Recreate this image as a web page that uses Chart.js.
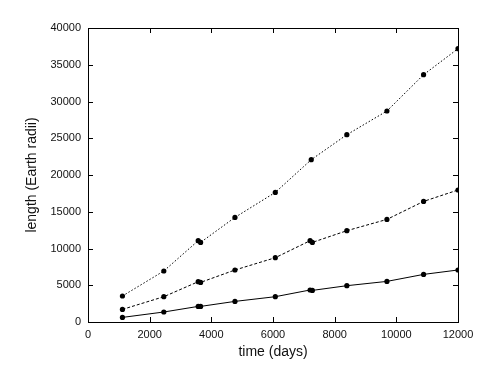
<!DOCTYPE html>
<html>
<head>
<meta charset="utf-8">
<script src="https://cdn.jsdelivr.net/npm/chart.js@4"></script>
<style>
  html, body { margin: 0; padding: 0; background: #fff; }
  #wrap { width: 502px; height: 367px; }
</style>
</head>
<body>
<div id="wrap"><canvas id="chartLength"></canvas></div>
<script>
const xTicks = [0, 2000, 4000, 6000, 8000, 10000, 12000];
const yTicks = [0, 5000, 10000, 15000, 20000, 25000, 30000, 35000, 40000];

const daysLow = [1117, 2459, 3574, 3652, 4766, 6075, 7203, 7277, 8395, 9695, 10884, 12000];
const lengthLow = [626, 1360, 2122, 2122, 2803, 3442, 4354, 4300, 4940, 5524, 6476, 7075];

const daysMid = [1117, 2459, 3574, 3652, 4766, 6075, 7203, 7277, 8395, 9695, 10884, 12000];
const lengthMid = [1714, 3442, 5483, 5390, 7075, 8748, 11061, 10830, 12422, 13959, 16408, 17959];

const daysHigh = [1117, 2459, 3574, 3652, 4766, 6075, 7240, 8395, 9695, 10884, 12000];
const lengthHigh = [3537, 6939, 11061, 10830, 14231, 17633, 22082, 25483, 28707, 33646, 37184];

const toPoints = (xs, ys) => xs.map((x, i) => ({ x: x, y: ys[i] }));

const fontFamily = "'Liberation Sans', Arial, sans-serif";

// frame on all four sides with short inward ticks
const frameTicks = {
  id: "frameTicks",
  afterDraw(chart) {
    const { ctx, chartArea: a, scales } = chart;
    ctx.save();
    ctx.strokeStyle = "#000";
    ctx.lineWidth = 1;
    ctx.strokeRect(a.left + 0.5, a.top + 0.5, a.right - a.left, a.bottom - a.top);
    ctx.beginPath();
    yTicks.forEach((v) => {
      const py = Math.round(scales.y.getPixelForValue(v)) + 0.5;
      ctx.moveTo(a.left, py);
      ctx.lineTo(a.left + 5, py);
      ctx.moveTo(a.right, py);
      ctx.lineTo(a.right - 5, py);
    });
    xTicks.forEach((v) => {
      const px = Math.round(scales.x.getPixelForValue(v)) + 0.5;
      ctx.moveTo(px, a.bottom);
      ctx.lineTo(px, a.bottom - 5);
      ctx.moveTo(px, a.top);
      ctx.lineTo(px, a.top + 5);
    });
    ctx.stroke();
    ctx.restore();
  },
};

const seriesStyle = {
  borderColor: "#000",
  backgroundColor: "#000",
  borderWidth: 1,
  pointRadius: 2.6,
  pointHoverRadius: 2.6,
  pointBorderWidth: 0,
  tension: 0,
  fill: false,
};

new Chart(document.getElementById("chartLength"), {
  type: "line",
  data: {
    datasets: [
      { label: "low", data: toPoints(daysLow, lengthLow), ...seriesStyle },
      { label: "mid", data: toPoints(daysMid, lengthMid), ...seriesStyle, borderDash: [3, 2] },
      { label: "high", data: toPoints(daysHigh, lengthHigh), ...seriesStyle, borderDash: [1.5, 2] },
    ],
  },
  options: {
    responsive: true,
    maintainAspectRatio: false,
    animation: false,
    layout: {
      padding: { top: 28, right: 44, left: 0, bottom: 0 },
    },
    scales: {
      x: {
        type: "linear",
        min: 0,
        max: 12000,
        afterFit: (scale) => { scale.height = 45; },
        afterBuildTicks: (scale) => { scale.ticks = xTicks.map((v) => ({ value: v })); },
        grid: { display: false, drawTicks: false },
        border: { display: false },
        ticks: {
          padding: 6,
          color: "#111",
          maxRotation: 0,
          callback: (v) => String(v),
          font: { size: 11, family: fontFamily },
        },
        title: {
          display: true,
          text: "time (days)",
          color: "#111",
          padding: { top: 0, bottom: 6 },
          font: { size: 14, family: fontFamily },
        },
      },
      y: {
        min: 0,
        max: 40000,
        afterFit: (scale) => { scale.width = 88; },
        afterBuildTicks: (scale) => { scale.ticks = yTicks.map((v) => ({ value: v })); },
        grid: { display: false, drawTicks: false },
        border: { display: false },
        ticks: {
          padding: 7,
          color: "#111",
          callback: (v) => String(v),
          font: { size: 11, family: fontFamily },
        },
        title: {
          display: true,
          text: "length (Earth radii)",
          color: "#111",
          padding: { top: 24, bottom: 0 },
          font: { size: 14, family: fontFamily },
        },
      },
    },
    plugins: {
      legend: { display: false },
      tooltip: { enabled: false },
    },
  },
  plugins: [frameTicks],
});
</script>
</body>
</html>
